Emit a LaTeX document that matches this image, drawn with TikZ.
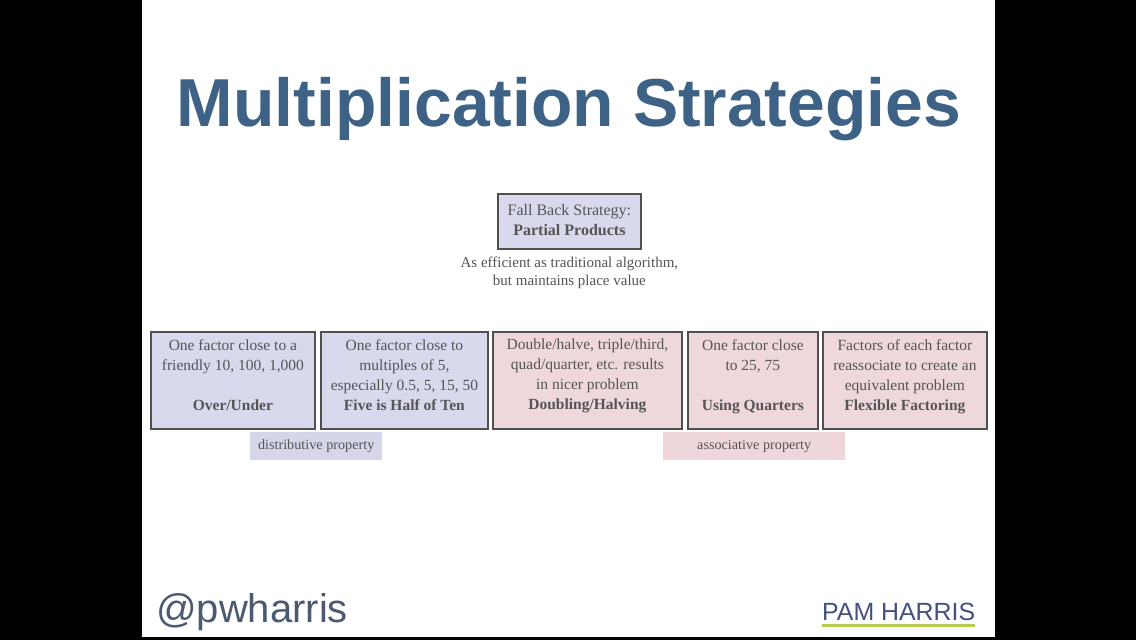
\documentclass[tikz,border=0pt]{standalone}
\usepackage{fontspec}
\setmainfont{Liberation Serif}
\setsansfont{Liberation Sans}
\usepackage{graphicx}
\definecolor{titleblue}{HTML}{3E6286}
\definecolor{lav}{HTML}{D9D9EE}
\definecolor{pinkbox}{HTML}{EFD8DC}
\definecolor{lavlbl}{HTML}{D6D6EA}
\definecolor{pinklbl}{HTML}{EED6DA}
\definecolor{boxline}{HTML}{505050}
\definecolor{txtgray}{HTML}{555555}
\definecolor{foot}{HTML}{4B5A70}
\definecolor{footline}{HTML}{B8CC4E}
\tikzset{
  stratbox/.style={draw=boxline, line width=1.8pt, inner sep=0pt, anchor=north west, text=txtgray, align=center},
  boxtext/.style={text=txtgray, font=\fontsize{15.5}{20}\selectfont, align=center, inner sep=0pt, anchor=north},
  lblbox/.style={inner sep=0pt, anchor=north west, text=txtgray, font=\fontsize{14.2}{16}\selectfont, align=center},
}
\begin{document}
\begin{tikzpicture}[x=1pt,y=-1pt]
\useasboundingbox (0,0) rectangle (1136,640);
\fill[black] (0,0) rectangle (1136,640);
\fill[white] (142,0) rectangle (995,637);
\node[font=\sffamily\bfseries, text=titleblue, inner sep=0pt] (title) at (569,109) {\resizebox{784pt}{!}{Multiplication Strategies}};
\node[stratbox, fill=lav, minimum width=143pt, minimum height=55pt] (fb) at (497,193) {};
\node[text=txtgray, font=\fontsize{16}{20}\selectfont, align=center, inner sep=0pt] (fbt) at ([yshift=1pt]fb.center) {Fall Back Strategy:\\\textbf{Partial Products}};
\node[text=txtgray, font=\fontsize{15}{18}\selectfont, align=center, inner sep=0pt, anchor=north] (eff) at ([yshift=-7pt]fb.south) {As efficient as traditional algorithm,\\but maintains place value};
\node[stratbox, fill=lav, minimum width=164pt, minimum height=97pt] (b1) at (150,331) {};
\node[stratbox, fill=lav, minimum width=167pt, minimum height=97pt] (b2) at (320,331) {};
\node[stratbox, fill=pinkbox, minimum width=189pt, minimum height=97pt] (b3) at (492,331) {};
\node[stratbox, fill=pinkbox, minimum width=130pt, minimum height=97pt] (b4) at (687,331) {};
\node[stratbox, fill=pinkbox, minimum width=164pt, minimum height=97pt] (b5) at (822,331) {};
\foreach \b/\t in {b1/{One factor close to a\\friendly 10, 100, 1,000\\[20pt]\textbf{Over/Under}},
  b2/{One factor close to\\multiples of 5,\\especially 0.5, 5, 15, 50\\\textbf{Five is Half of Ten}},
  b3/{Double/halve, triple/third,\\quad/quarter, etc. results\\in nicer problem\\\textbf{Doubling/Halving}},
  b4/{One factor close\\to 25, 75\\[20pt]\textbf{Using Quarters}},
  b5/{Factors of each factor\\reassociate to create an\\equivalent problem\\\textbf{Flexible Factoring}}}
  \node[boxtext] (\b t) at ([yshift=-8pt]\b.north) {\t};
\node[lblbox, fill=lavlbl, minimum width=132pt, minimum height=28pt] (dp) at (250,432) {distributive property};
\node[lblbox, fill=pinklbl, minimum width=182pt, minimum height=28pt] (ap) at (663,432) {associative property};
\node[font=\sffamily\fontsize{40}{44}\selectfont, text=foot, anchor=base west, inner sep=0pt] (tw) at (156,622) {@pwharris};
\node[font=\sffamily\fontsize{24}{26}\selectfont, text=foot!90!blue, anchor=base west, inner sep=0pt] (ph) at (822,620) {\resizebox{153pt}{!}{PAM HARRIS}};
\draw[footline, line width=3pt] ([yshift=-5pt]ph.base west) coordinate (ul1) -- ([yshift=-5pt]ph.base east) coordinate (ul2);
\end{tikzpicture}
\end{document}
